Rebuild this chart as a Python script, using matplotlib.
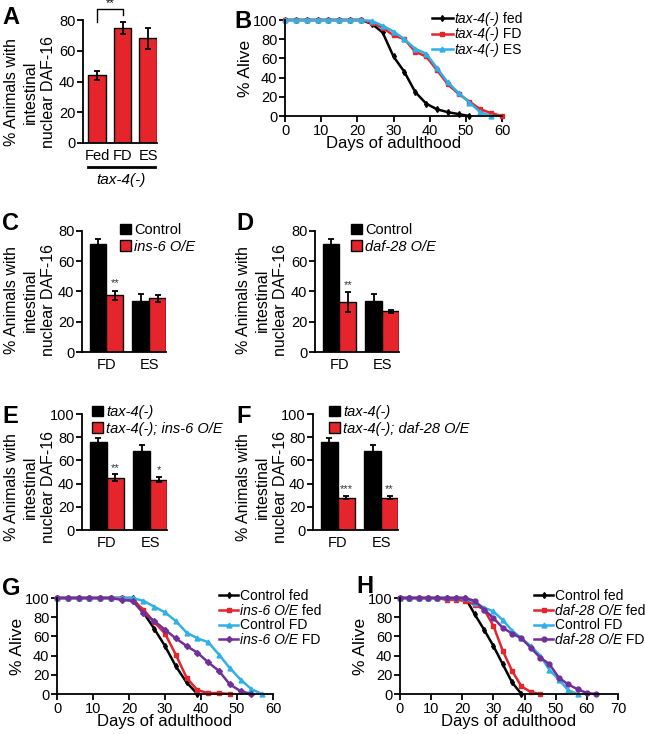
import numpy as np
import matplotlib
matplotlib.use('Agg')
import matplotlib.pyplot as plt
from matplotlib.patches import Patch
from matplotlib.lines import Line2D

plt.rcParams['font.family'] = ['Liberation Sans', 'DejaVu Sans']

RED = '#e5242b'
BLUE = '#2fb0e6'
PURPLE = '#70309c'

# ---- data ----
# A
a_labels = ['Fed', 'FD', 'ES']
a_vals = [44, 75, 68]
a_err = [3, 4, 7]

# C - F bar panels
groups = ['FD', 'ES']
c_ctrl, c_ctrl_err = [71.5, 33.5], [3.5, 5]
c_ins6, c_ins6_err = [37.5, 35.5], [3, 2.5]
c_stars = ['**', '']
d_ctrl, d_ctrl_err = [71.5, 33.5], [3.5, 5]
d_daf28, d_daf28_err = [33, 27], [6.5, 1]
d_stars = ['**', '']
e_tax4, e_tax4_err = [75.5, 68.5], [3.5, 5]
e_ins6, e_ins6_err = [45, 43.5], [3, 2.5]
e_stars = ['**', '*']
f_tax4, f_tax4_err = [75.5, 68.5], [3.5, 4.5]
f_daf28, f_daf28_err = [28, 28], [1.2, 1.2]
f_stars = ['***', '**']

# B survival
b_fed_days = [0, 3, 6, 9, 12, 15, 18, 21, 24, 27, 30, 33, 36, 39, 42, 45, 48, 51]
b_fed = [100, 100, 100, 100, 100, 100, 100, 100, 96, 87, 62, 46, 25, 13, 7, 4, 2, 0]
b_fd_days = [0, 3, 6, 9, 12, 15, 18, 21, 24, 27, 30, 33, 36, 39, 42, 45, 48, 51, 54, 57, 60]
b_fd = [100, 100, 100, 100, 100, 100, 100, 100, 97, 92, 84, 80, 67, 62, 48, 33, 23, 15, 7, 3, 0]
b_es_days = [0, 3, 6, 9, 12, 15, 18, 21, 24, 27, 30, 33, 36, 39, 42, 45, 48, 51, 54, 57]
b_es = [100, 100, 100, 100, 100, 100, 100, 100, 99, 94, 88, 80, 70, 65, 50, 35, 24, 14, 4, 0]

# G survival
g_cf_days = [0, 3, 6, 9, 12, 15, 18, 21, 24, 27, 30, 33, 36, 39]
g_cf = [100, 100, 100, 100, 100, 100, 100, 100, 85, 68, 50, 29, 12, 0]
g_if_days = [0, 3, 6, 9, 12, 15, 18, 21, 24, 27, 30, 33, 36, 39, 42, 45, 48]
g_if = [100, 100, 100, 100, 100, 100, 100, 98, 88, 75, 63, 41, 17, 4, 1, 1, 0]
g_cfd_days = [0, 3, 6, 9, 12, 15, 18, 21, 24, 27, 30, 33, 36, 39, 42, 45, 48, 51, 54, 57]
g_cfd = [100, 100, 100, 100, 100, 100, 100, 100, 97, 91, 85, 76, 64, 58, 54, 41, 27, 15, 5, 0]
g_ifd_days = [0, 3, 6, 9, 12, 15, 18, 21, 24, 27, 30, 33, 36, 39, 42, 45, 48, 51, 54]
g_ifd = [100, 100, 100, 100, 100, 100, 98, 97, 84, 76, 67, 58, 50, 43, 33, 24, 10, 3, 0]

# H survival
h_cf_days = [0, 3, 6, 9, 12, 15, 18, 21, 24, 27, 30, 33, 36, 39]
h_cf = [100, 100, 100, 100, 100, 100, 100, 100, 83, 67, 50, 31, 12, 0]
h_df_days = [0, 3, 6, 9, 12, 15, 18, 21, 24, 27, 30, 33, 36, 39, 42, 45]
h_df = [100, 100, 100, 100, 100, 98, 98, 97, 93, 88, 71, 45, 24, 8, 2, 0]
h_cfd_days = [0, 3, 6, 9, 12, 15, 18, 21, 24, 27, 30, 33, 36, 39, 42, 45, 48, 51, 54, 57]
h_cfd = [100, 100, 100, 100, 100, 100, 100, 100, 95, 90, 86, 77, 66, 58, 50, 40, 25, 15, 4, 0]
h_dfd_days = [0, 3, 6, 9, 12, 15, 18, 21, 24, 27, 30, 33, 36, 39, 42, 45, 48, 51, 54, 57, 60, 63]
h_dfd = [100, 100, 100, 100, 100, 100, 100, 100, 97, 88, 79, 69, 63, 58, 48, 38, 31, 17, 10, 5, 1, 0]

W, H = 645, 734
fig = plt.figure(figsize=(W / 100, H / 100), dpi=100)


def fx(x):
    return x / W


def fy(y):
    return 1 - y / H


def add_ax(l, t, r, b):
    return fig.add_axes([fx(l), fy(b), (r - l) / W, (b - t) / H])


def style(ax):
    for s in ['top', 'right']:
        ax.spines[s].set_visible(False)
    for s in ['left', 'bottom']:
        ax.spines[s].set_linewidth(1.3)
    ax.tick_params(width=1.3, length=4, labelsize=10.5, pad=1.5)


def letter(x, y, s):
    fig.text(fx(x), fy(y), s, fontsize=17, fontweight='bold', ha='left', va='top')


def bar_ylabel(x, y):
    fig.text(fx(x), fy(y), '% Animals with\nintestinal\nnuclear DAF-16', rotation=90,
             ha='center', va='center', fontsize=11.5, linespacing=1.3)


def legend(ax, handles, parts, leg_x, leg_y, size, **kw):
    # parts: (main text, upright suffix, main text italic?)
    leg = ax.legend(handles, [p[0] for p in parts], loc='upper left',
                    bbox_to_anchor=(fx(leg_x), fy(leg_y)), bbox_transform=fig.transFigure,
                    frameon=False, borderpad=0, borderaxespad=0, fontsize=size, **kw)
    for t, (main, suffix, ital) in zip(leg.get_texts(), parts):
        if ital:
            t.set_fontstyle('italic')
        if suffix:
            ax.annotate(suffix, xy=(1, 0), xycoords=t, ha='left', va='bottom',
                        fontsize=size, zorder=6)


ekw = dict(elinewidth=1.3, capthick=1.3, ecolor='black', capsize=2)


def bar_panel(ax, s1, e1, s2, e2, stars, ymax, yticks, labels, leg_x, leg_y):
    x1 = [0, 2.55]
    x2 = [1, 3.55]
    ax.bar(x1, s1, width=1, color='black', edgecolor='black', lw=1, yerr=e1, error_kw=ekw)
    ax.bar(x2, s2, width=1, color=RED, edgecolor='black', lw=1, yerr=e2, error_kw=ekw)
    for i in range(2):
        if stars[i]:
            ax.text(x2[i], s2[i] + e2[i] + 1.5, stars[i], ha='center', va='bottom',
                    fontsize=8, color='#333333')
    ax.set_xticks([0.5, 3.05], groups)
    ax.tick_params(axis='x', length=0, pad=4)
    ax.set_xlim(-0.95, 4.05)
    ax.set_ylim(0, ymax)
    ax.set_yticks(yticks)
    handles = [Patch(facecolor='black', edgecolor='black'), Patch(facecolor=RED, edgecolor='black')]
    legend(ax, handles, labels, leg_x, leg_y, 10.5, handlelength=0.75, handleheight=0.75,
           handletextpad=0.2, labelspacing=0.2)


def surv_panel(ax, series, xmax, xticks, leg_x, leg_y, size):
    handles = []
    for days, vals, color, marker, ms in series:
        h, = ax.plot(days, vals, color=color, lw=1.8, marker=marker, ms=ms, clip_on=False)
        handles.append(h)
    ax.set_xlim(0, xmax)
    ax.set_ylim(0, 100)
    ax.set_xticks(xticks)
    ax.set_yticks([0, 20, 40, 60, 80, 100])
    ax.set_xlabel('Days of adulthood', fontsize=12, labelpad=-1)
    ax.set_ylabel('% Alive', fontsize=12.5, labelpad=0)
    return handles


# ---- A ----
axA = add_ax(83, 20, 157, 143)
style(axA)
axA.bar([0, 1, 2], a_vals, width=0.7, color=RED, edgecolor='black', lw=1, yerr=a_err, error_kw=ekw)
axA.set_xlim(-0.55, 2.35)
axA.set_ylim(0, 80)
axA.set_yticks([0, 20, 40, 60, 80])
axA.set_xticks([0, 1, 2], a_labels)
axA.tick_params(axis='x', length=0, pad=4)
axA.plot([0, 0, 1, 1], [79, 87, 87, 83], color='black', lw=1, clip_on=False)
axA.text(0.5, 87.5, '**', ha='center', va='bottom', fontsize=8)
fig.add_artist(Line2D([fx(88), fx(155)], [fy(167), fy(167)], color='black', lw=2))
fig.text(fx(121), fy(180), 'tax-4(-)', style='italic', ha='center', va='center', fontsize=11)
bar_ylabel(30, 92)
letter(2, 6, 'A')

# ---- B ----
axB = add_ax(285, 20, 502, 116)
style(axB)
hB = surv_panel(axB, [
    (b_fed_days, b_fed, 'black', 'd', 3),
    (b_fd_days, b_fd, RED, 's', 3.5),
    (b_es_days, b_es, BLUE, '^', 3.5),
], 60, [0, 10, 20, 30, 40, 50, 60], 432, 12, 10)
legend(axB, hB, [('tax-4(-)', ' fed', True), ('tax-4(-)', ' FD', True), ('tax-4(-)', ' ES', True)],
       432, 12, 10, handlelength=1.5, handletextpad=0.1, labelspacing=0.1)
letter(234, 10, 'B')

# ---- C ----
axC = add_ax(82, 231, 166, 352)
style(axC)
bar_panel(axC, c_ctrl, c_ctrl_err, c_ins6, c_ins6_err, c_stars, 80, [0, 20, 40, 60, 80],
          [('Control', '', False), ('ins-6 O/E', '', True)], 120, 223)
bar_ylabel(30, 300)
letter(2, 212, 'C')

# ---- D ----
axD = add_ax(315, 231, 399, 352)
style(axD)
bar_panel(axD, d_ctrl, d_ctrl_err, d_daf28, d_daf28_err, d_stars, 80, [0, 20, 40, 60, 80],
          [('Control', '', False), ('daf-28 O/E', '', True)], 351, 223)
bar_ylabel(262, 300)
letter(236, 212, 'D')

# ---- E ----
axE = add_ax(82, 414, 167, 530)
style(axE)
bar_panel(axE, e_tax4, e_tax4_err, e_ins6, e_ins6_err, e_stars, 100, [0, 20, 40, 60, 80, 100],
          [('tax-4(-)', '', True), ('tax-4(-); ins-6 O/E', '', True)], 92, 405)
bar_ylabel(30, 487)
letter(2, 405, 'E')

# ---- F ----
axF = add_ax(313, 414, 398, 530)
style(axF)
bar_panel(axF, f_tax4, f_tax4_err, f_daf28, f_daf28_err, f_stars, 100, [0, 20, 40, 60, 80, 100],
          [('tax-4(-)', '', True), ('tax-4(-); daf-28 O/E', '', True)], 329, 405)
bar_ylabel(262, 487)
letter(236, 405, 'F')

# ---- G ----
axG = add_ax(57, 598, 273, 694)
style(axG)
hG = surv_panel(axG, [
    (g_cf_days, g_cf, 'black', 'd', 3),
    (g_if_days, g_if, RED, 's', 3.5),
    (g_cfd_days, g_cfd, BLUE, '^', 3.5),
    (g_ifd_days, g_ifd, PURPLE, 'D', 3),
], 60, [0, 10, 20, 30, 40, 50, 60], 219, 589, 10)
legend(axG, hG, [('Control fed', '', False), ('ins-6 O/E', ' fed', True),
                 ('Control FD', '', False), ('ins-6 O/E', ' FD', True)],
       219, 589, 10, handlelength=1.4, handletextpad=0.1, labelspacing=0.05)
letter(2, 577, 'G')

# ---- H ----
axH = add_ax(400, 598, 618, 694)
style(axH)
hH = surv_panel(axH, [
    (h_cf_days, h_cf, 'black', 'd', 3),
    (h_df_days, h_df, RED, 's', 3.5),
    (h_cfd_days, h_cfd, BLUE, '^', 3.5),
    (h_dfd_days, h_dfd, PURPLE, 'o', 3.5),
], 70, [0, 10, 20, 30, 40, 50, 60, 70], 534, 589, 10)
legend(axH, hH, [('Control fed', '', False), ('daf-28 O/E', ' fed', True),
                 ('Control FD', '', False), ('daf-28 O/E', ' FD', True)],
       534, 589, 10, handlelength=1.4, handletextpad=0.1, labelspacing=0.05)
letter(356, 575, 'H')

fig.canvas.draw()
plt.savefig('out.png', dpi=100)
